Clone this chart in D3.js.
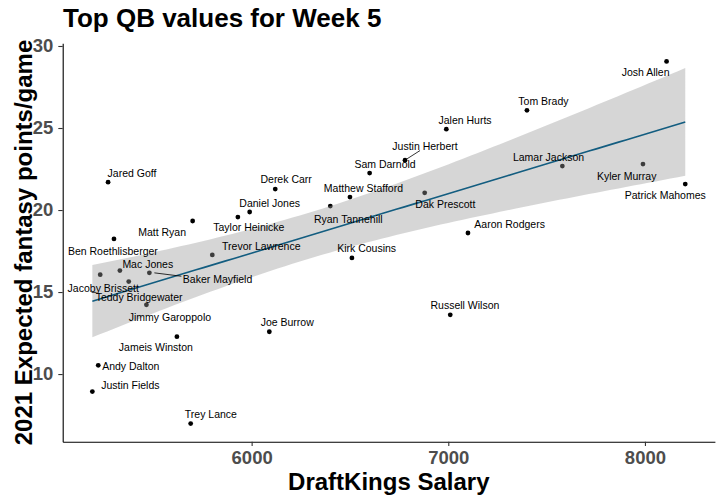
<!DOCTYPE html>
<html><head><meta charset="utf-8">
<script src="https://cdn.jsdelivr.net/npm/d3@7"></script>
<style>
html,body{margin:0;padding:0;background:#fff;}
svg{display:block;font-family:"Liberation Sans",Arial,Helvetica,sans-serif;}
</style></head>
<body>
<script>
// ---- data ----
const players = ["Josh Allen","Tom Brady","Jalen Hurts","Justin Herbert","Sam Darnold","Lamar Jackson","Kyler Murray","Patrick Mahomes","Dak Prescott","Derek Carr","Matthew Stafford","Daniel Jones","Ryan Tannehill","Aaron Rodgers","Kirk Cousins","Taylor Heinicke","Matt Ryan","Jared Goff","Trevor Lawrence","Baker Mayfield","Joe Burrow","Russell Wilson","Jimmy Garoppolo","Jameis Winston","Andy Dalton","Justin Fields","Trey Lance","Ben Roethlisberger","Mac Jones","Jacoby Brissett","Teddy Bridgewater"];
const salary = [8110,7400,6990,6780,6600,7580,7990,8205,6880,6120,6500,5990,6400,7100,6510,5930,5700,5270,5800,5480,6090,7010,5465,5620,5220,5190,5690,5300,5330,5230,5375];
const xfp = [29.06,26.08,24.93,23.04,22.25,22.68,22.80,21.58,21.05,21.28,20.79,19.88,20.24,18.60,17.08,19.57,19.33,21.70,17.26,16.17,12.58,13.61,14.22,12.28,10.53,8.93,6.98,18.24,16.31,16.06,15.64];
const xTicks = [6000,7000,8000];
const yTicks = [10,15,20,25,30];
const titleText = "Top QB values for Week 5";
const xTitle = "DraftKings Salary";
const yTitle = "2021 Expected fantasy points/game";

// ---- label layout (pixel offsets of repelled labels, from the point) ----
const labelOffsets = {
 "Josh Allen":[-21,11],"Tom Brady":[16.5,-9],"Jalen Hurts":[18.7,-9.3],"Justin Herbert":[20,-13.6],
 "Sam Darnold":[15.4,-8.6],"Lamar Jackson":[-13.8,-9],"Kyler Murray":[-16.3,12],"Patrick Mahomes":[-20,11.7],
 "Dak Prescott":[20.7,12],"Derek Carr":[10.9,-10],"Matthew Stafford":[13.5,-9],"Daniel Jones":[20,-9],
 "Ryan Tannehill":[18,13],"Aaron Rodgers":[41.7,-9],"Kirk Cousins":[14.7,-9.3],"Taylor Heinicke":[11,10.7],
 "Matt Ryan":[-30.5,11.4],"Jared Goff":[23.9,-9],"Trevor Lawrence":[49,-8.3],"Baker Mayfield":[68.2,6],
 "Joe Burrow":[17.9,-9],"Russell Wilson":[14.7,-9.3],"Jimmy Garoppolo":[23.5,12],"Jameis Winston":[-21,10.7],
 "Andy Dalton":[32.5,1],"Justin Fields":[38,-6.6],"Trey Lance":[20.2,-9.3],"Ben Roethlisberger":[-1.1,12],
 "Mac Jones":[27.9,-6.3],"Jacoby Brissett":[3,13.3],"Teddy Bridgewater":[10.4,15.3]
};
const labelSegments = {
 "Justin Herbert":[[2,-1.3],[15,-9.6]],
 "Baker Mayfield":[[5,0],[32,3.4]],
 "Jacoby Brissett":[[-8.6,17.7],[-3.6,17.7]]
};

const W = 722, H = 502;
const margin = {left:62.7, right:722-714.9, top:43.3, bottom:502-441.7};
const svg = d3.select("body").append("svg").attr("width",W).attr("height",H);

const data = players.map((p,i)=>({name:p, x:salary[i], y:xfp[i]}));
const xExt = d3.extent(salary), yExt = d3.extent(xfp);
const xPad = (xExt[1]-xExt[0])*0.05, yPad = (yExt[1]-yExt[0])*0.05;
const x = d3.scaleLinear().domain([xExt[0]-xPad, xExt[1]+xPad]).range([margin.left, W-margin.right]);
const y = d3.scaleLinear().domain([yExt[0]-yPad, yExt[1]+yPad]).range([H-margin.bottom, margin.top]);

// linear model + 95% CI
const n = data.length;
const xbar = d3.mean(salary), ybar = d3.mean(xfp);
const Sxx = d3.sum(salary, v=>(v-xbar)**2);
const Sxy = d3.sum(data, d=>(d.x-xbar)*(d.y-ybar));
const b = Sxy/Sxx, a = ybar - b*xbar;
const sse = d3.sum(data, d=>(d.y-(a+b*d.x))**2);
const s = Math.sqrt(sse/(n-2));
const tcrit = 2.045;
const grid = d3.range(0,81).map(i=>xExt[0]+(xExt[1]-xExt[0])*i/80);
const fit = grid.map(gx=>{
  const yh = a+b*gx;
  const se = s*Math.sqrt(1/n + (gx-xbar)**2/Sxx);
  return {x:gx, y:yh, lo:yh-tcrit*se, hi:yh+tcrit*se};
});

// points
svg.append("g").selectAll("circle").data(data).join("circle")
  .attr("cx",d=>x(d.x)).attr("cy",d=>y(d.y)).attr("r",2.4).attr("fill","#000");

// ribbon
svg.append("path").datum(fit)
  .attr("d", d3.area().x(d=>x(d.x)).y0(d=>y(d.lo)).y1(d=>y(d.hi)))
  .attr("fill","#999999").attr("fill-opacity",0.4);
// line
svg.append("path").datum(fit)
  .attr("d", d3.line().x(d=>x(d.x)).y(d=>y(d.y)))
  .attr("fill","none").attr("stroke","#135D80").attr("stroke-width",1.6);

// segments
Object.entries(labelSegments).forEach(([name,seg])=>{
  const d = data.find(e=>e.name===name);
  svg.append("line")
    .attr("x1",x(d.x)+seg[0][0]).attr("y1",y(d.y)+seg[0][1])
    .attr("x2",x(d.x)+seg[1][0]).attr("y2",y(d.y)+seg[1][1])
    .attr("stroke","#000").attr("stroke-width",0.8);
});

// labels
svg.append("g").selectAll("text").data(data).join("text")
  .attr("x",d=>x(d.x)+labelOffsets[d.name][0])
  .attr("y",d=>y(d.y)+labelOffsets[d.name][1])
  .attr("dy","0.35em").attr("text-anchor","middle")
  .attr("font-size","10.5px").attr("fill","#000")
  .text(d=>d.name);

// axes
const xAxis = svg.append("g").attr("transform",`translate(0,${H-margin.bottom})`)
  .call(d3.axisBottom(x).tickValues(xTicks).tickSize(4.4).tickSizeOuter(0).tickPadding(5).tickFormat(d3.format("d")));
const yAxis = svg.append("g").attr("transform",`translate(${margin.left},0)`)
  .call(d3.axisLeft(y).tickValues(yTicks).tickSize(4.4).tickSizeOuter(0).tickPadding(5));
[xAxis,yAxis].forEach(g=>{
  g.select(".domain").attr("stroke","#000").attr("stroke-width",1.1);
  g.selectAll(".tick line").attr("stroke","#333").attr("stroke-width",1.1);
  g.selectAll(".tick text").attr("fill","#4D4D4D").attr("font-size","18.5px").attr("font-weight","bold")
   .attr("font-family","'Liberation Sans',Arial,sans-serif");
});

// titles
svg.append("text").attr("x",63).attr("y",27.3).attr("font-size","26px").attr("font-weight","bold")
  .attr("fill","#000").text(titleText);
svg.append("text").attr("x",(x.range()[0]+x.range()[1])/2).attr("y",490).attr("text-anchor","middle")
  .attr("font-size","24px").attr("font-weight","bold").attr("fill","#000").text(xTitle);
svg.append("text").attr("transform",`translate(31.7,${(y.range()[0]+y.range()[1])/2}) rotate(-90)`)
  .attr("text-anchor","middle").attr("font-size","24px").attr("font-weight","bold").attr("fill","#000").text(yTitle);
</script>
</body></html>
